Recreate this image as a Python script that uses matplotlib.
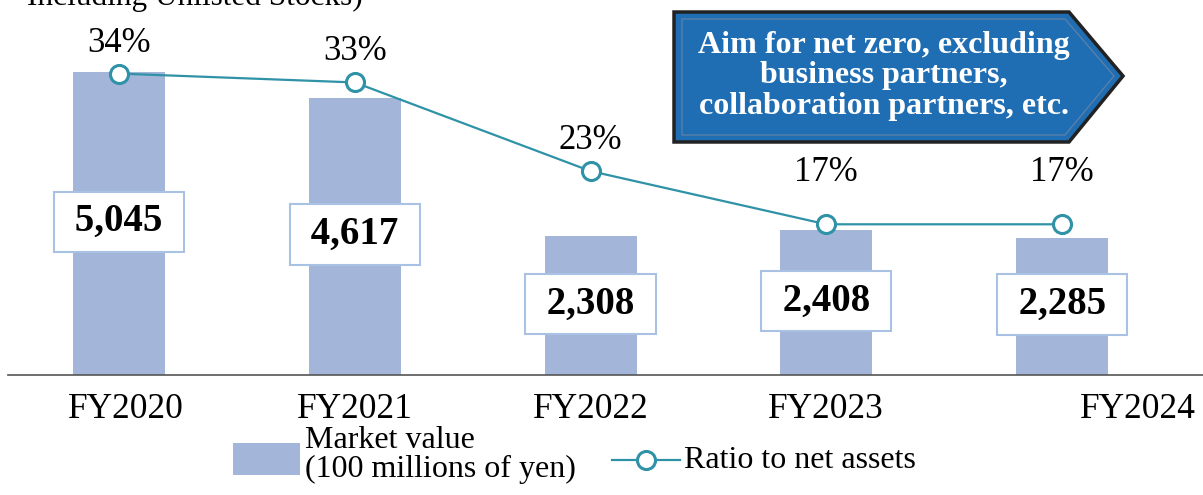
import numpy as np
import matplotlib.pyplot as plt
from matplotlib.patches import Polygon, Rectangle
from matplotlib.lines import Line2D

plt.rcParams['font.family'] = ['Liberation Serif', 'DejaVu Serif']

years = ['FY2020', 'FY2021', 'FY2022', 'FY2023', 'FY2024']
market_value = [5045, 4617, 2308, 2408, 2285]
ratio = [34, 33, 23, 17, 17]
value_labels = ['5,045', '4,617', '2,308', '2,408', '2,285']
ratio_labels = ['34%', '33%', '23%', '17%', '17%']

bar_color = '#a3b5d8'
line_color = '#2f92a6'

W, H = 1203, 495
fig = plt.figure(figsize=(W / 100, H / 100), dpi=100)
ax = fig.add_axes([8 / W, 120 / H, 1195 / W, 375 / H])
ax2 = ax.twinx()

x = np.arange(len(years))
ax.bar(x, market_value, width=0.39, color=bar_color, zorder=1)
ax.set_xlim(-0.471, 4.598)
ax.set_ylim(0, 6244)
ax2.set_ylim(0, 42.3)

for a in (ax, ax2):
    for s in ['top', 'right', 'left']:
        a.spines[s].set_visible(False)
    a.set_yticks([])
ax2.spines['bottom'].set_visible(False)
ax.spines['bottom'].set_color('#555555')
ax.spines['bottom'].set_linewidth(1.2)
ax.set_xticks([])

# value boxes, roughly mid bar
for xi, v, lab in zip(x, market_value, value_labels):
    ax.text(xi, v / 2 + 30, ' ' + lab + ' ', ha='center', va='center', fontsize=28,
            fontweight='bold', zorder=3,
            bbox=dict(boxstyle='square,pad=0.3', fc='white', ec='#a9c1e3', lw=1.5))

# ratio line
ax2.plot(x, ratio, color=line_color, lw=1.6, marker='o', ms=13, mfc='white',
         mec=line_color, mew=2.2, zorder=4)
ax2.set_zorder(ax.get_zorder() + 1)
ax2.patch.set_visible(False)
offs = [22, 22, 22, 37, 37]
for xi, r, lab, o in zip(x, ratio, ratio_labels, offs):
    ax2.annotate(lab, (xi, r), xytext=(0, o), textcoords='offset points',
                 ha='center', va='center', fontsize=25)

# category labels
shift = [7, 0, 0, 0, 76]
for xi, lab, s in zip(x, years, shift):
    ax.annotate(lab, (xi, 0), xytext=(s * 0.72, -25), textcoords='offset points',
                ha='center', va='center', fontsize=25.5, annotation_clip=False)

# header text, cut at the top like the source
fig.text(27 / W, 1 - 5 / H, 'Including Unlisted Stocks)', fontsize=22.5,
         ha='left', va='baseline')


def fx(px):
    return px / W


def fy(py):
    return 1 - py / H


# arrow box
outer = [(674, 12), (1069, 12), (1123, 76), (1069, 142), (674, 142)]
fig.patches.append(Polygon([(fx(a), fy(b)) for a, b in outer], closed=True,
                           transform=fig.transFigure, fc='#1f6db2', ec='#222222', lw=2.5))
inner = [(682, 19), (1065, 19), (1114, 76), (1065, 135), (682, 135)]
fig.patches.append(Polygon([(fx(a), fy(b)) for a, b in inner], closed=True,
                           transform=fig.transFigure, fc='none', ec='#5a7fa8', lw=1.0))
fig.text(fx(884), fy(76), 'Aim for net zero, excluding\nbusiness partners,\ncollaboration partners, etc.',
         ha='center', va='center', color='white', fontsize=23, fontweight='bold',
         linespacing=1.07)

# legend
fig.patches.append(Rectangle((fx(233), fy(475)), 67 / W, 32 / H, transform=fig.transFigure,
                             fc=bar_color, ec='none'))
fig.text(fx(305), fy(455), 'Market value\n(100 millions of yen)', ha='left', va='center',
         fontsize=23, linespacing=1.0)
fig.lines.append(Line2D([fx(612), fx(680)], [fy(460), fy(460)], transform=fig.transFigure,
                        color=line_color, lw=1.6))
fig.lines.append(Line2D([fx(646)], [fy(460)], transform=fig.transFigure, color=line_color,
                        marker='o', ms=13, mfc='white', mew=2.2))
fig.text(fx(684), fy(460), 'Ratio to net assets', ha='left', va='center', fontsize=23)

fig.savefig('out.png', dpi=100)
